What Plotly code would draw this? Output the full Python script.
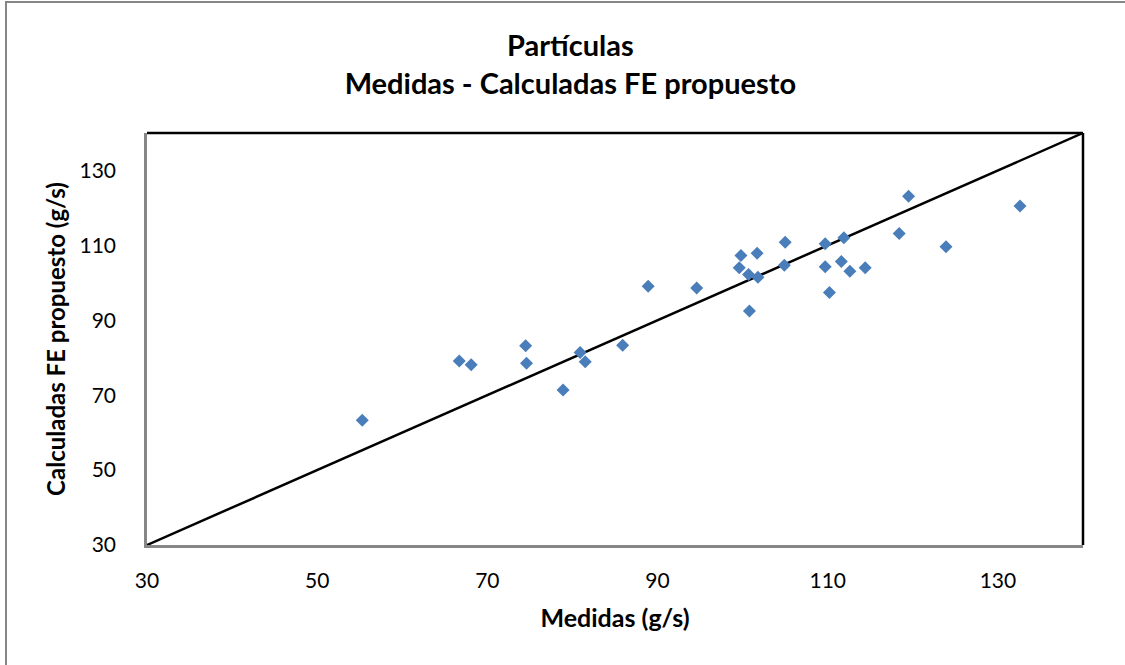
import plotly.graph_objects as go

medidas = [55.3, 66.7, 68.1, 74.5, 74.6, 78.9, 80.9, 81.5, 85.9, 88.9,
           94.6, 100.8, 99.8, 99.6, 100.7, 101.7, 101.8, 105.0, 104.9, 109.7,
           109.7, 110.2, 111.9, 111.6, 112.6, 114.4, 118.4, 119.5, 123.9, 132.6]
calculadas = [63.3, 79.1, 78.1, 83.2, 78.5, 71.4, 81.4, 78.9, 83.3, 99.1,
              98.6, 92.5, 107.3, 104.0, 102.2, 107.9, 101.5, 110.8, 104.7, 110.4,
              104.3, 97.4, 112.0, 105.7, 103.1, 104.0, 113.2, 123.1, 109.6, 120.5]
ref_line = [30, 140]
tick_vals = [30, 50, 70, 90, 110, 130]

FONT = "Lato"

fig = go.Figure()
fig.add_trace(go.Scatter(x=ref_line, y=ref_line, mode="lines",
                         line=dict(color="black", width=2.5), hoverinfo="skip",
                         cliponaxis=False))
fig.add_trace(go.Scatter(x=medidas, y=calculadas, mode="markers",
                         marker=dict(symbol="diamond", size=10, color="#4a7ebb",
                                     line=dict(width=0))))

fig.update_layout(
    width=1125, height=665,
    margin=dict(l=147, r=42, t=133, b=120),
    paper_bgcolor="white", plot_bgcolor="white",
    showlegend=False,
    font=dict(family=FONT, color="black"),
    title=dict(text="<b>Partículas</b><br><b>Medidas - Calculadas FE propuesto</b>",
               x=0.507, xanchor="center", y=0.916, yanchor="middle",
               font=dict(family=FONT, size=29, color="black")),
    xaxis=dict(range=[30, 140], tickvals=tick_vals, showgrid=False, zeroline=False,
               showline=True, linecolor="#868686", linewidth=2.5,
               ticks="", ticklabelstandoff=15,
               tickfont=dict(family=FONT, size=21, color="black"),
               title=dict(text="<b>Medidas (g/s)</b>", standoff=19,
                          font=dict(family=FONT, size=25, color="black"))),
    yaxis=dict(range=[30, 140], tickvals=tick_vals, showgrid=False, zeroline=False,
               showline=True, linecolor="#868686", linewidth=2.5,
               ticks="", ticklabelstandoff=24,
               tickfont=dict(family=FONT, size=21, color="black"),
               title=dict(text="<b>Calculadas FE propuesto (g/s)</b>", standoff=8,
                          font=dict(family=FONT, size=24, color="black"))),
    shapes=[
        dict(type="line", xref="paper", yref="paper", x0=0, x1=1, y0=1, y1=1,
             line=dict(color="black", width=2.5)),
        dict(type="line", xref="paper", yref="paper", x0=1, x1=1, y0=0, y1=1,
             line=dict(color="black", width=2.5)),
        dict(type="rect", xref="paper", yref="paper",
             x0=(6 - 147) / 936, x1=1.2, y0=-0.6, y1=(545 - 2) / 412,
             line=dict(color="#868686", width=2)),
    ],
)

fig.write_html("out.html")
